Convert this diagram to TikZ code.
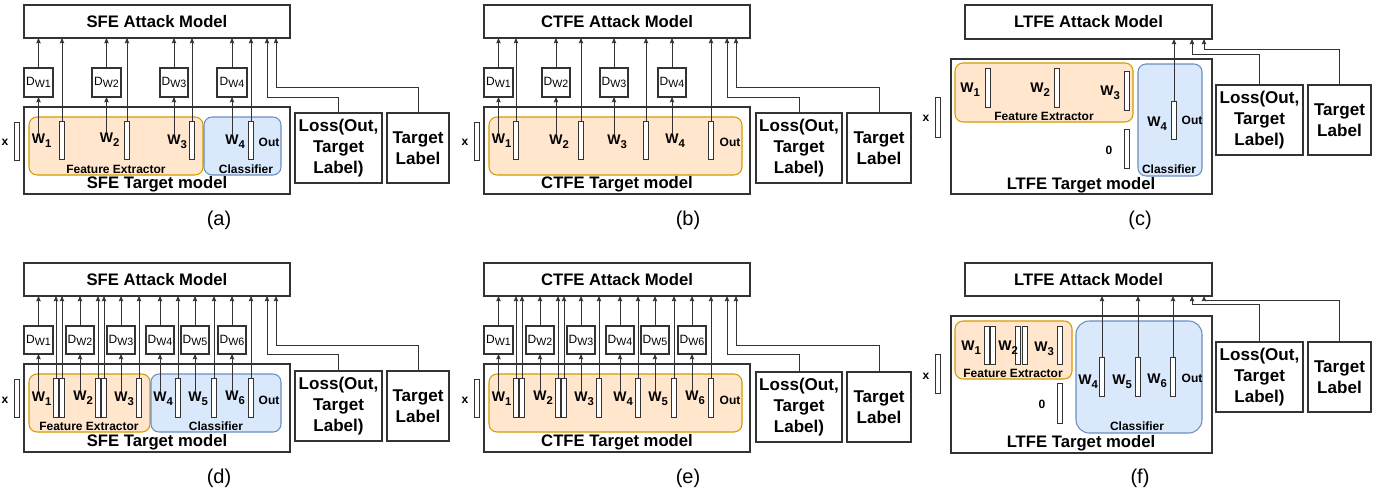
\documentclass[tikz,border=0pt]{standalone}
\usepackage{fontspec}
\setmainfont{Liberation Sans}
\usetikzlibrary{arrows.meta}
\definecolor{orf}{HTML}{FFE6CC}
\definecolor{ord}{HTML}{D79B00}
\definecolor{blf}{HTML}{DAE8FC}
\definecolor{bld}{HTML}{6C8EBF}
\definecolor{lnc}{HTML}{333333}
\tikzset{
 every node/.style={inner sep=0pt, outer sep=0pt},
 boxst/.style={draw=lnc, line width=0.8pt, fill=white},
 fest/.style={draw=ord, fill=orf, rounded corners=6pt, line width=0.8pt},
 clst/.style={draw=bld, fill=blf, rounded corners=6pt, line width=0.8pt},
 barst/.style={draw=lnc, fill=white, line width=0.7pt},
 ttl/.style={font=\fontsize{12.5}{15}\selectfont\bfseries},
 tgl/.style={ttl, anchor=base},
 big/.style={font=\fontsize{12.8}{15.75}\selectfont\bfseries, align=center},
 sm/.style={font=\fontsize{9}{10}\selectfont\bfseries},
 wlab/.style={font=\fontsize{10.5}{12}\selectfont\bfseries, anchor=north},
 captxt/.style={font=\fontsize{15}{18}\selectfont},
 dwst/.style={boxst, font=\fontsize{9}{10}\selectfont},
 arr/.style={draw=lnc, line width=0.75pt, -{Stealth[length=4pt,width=3.4pt,inset=0.6pt]}}
}
\newcommand\rbox[7]{\path ({((#2)+(#4))/2},{((#3)+(#5))/2}) node[#6, minimum width={((#4)-(#2))*0.75pt}, minimum height={((#5)-(#3))*0.75pt}] (#1) {#7};}
\newcommand\vbar[4]{\path ({#2},{((#3)+(#4))/2}) node[barst, minimum width=3.4pt, minimum height={((#4)-(#3))*0.75pt}] (#1) {};}
\newcommand\dwt[1]{D\raisebox{-1.5pt}{\fontsize{8}{9}\selectfont W#1}}
\newcommand\wl[4]{\node[wlab] (#1) at (#2,#3) {W\rlap{\raisebox{-3pt}{\fontsize{8.5}{9}\selectfont #4}}};}
\begin{document}
\begin{tikzpicture}[x=0.75pt,y=-0.75pt]
\useasboundingbox (0,0) rectangle (1395,496);
% ================= (a)
\rbox{atkA}{24}{5}{290}{38}{boxst,ttl}{SFE Attack Model}
\rbox{tgtA}{24}{107}{290}{194}{boxst}{}
\rbox{feA}{29}{117}{203}{175}{fest}{}
\rbox{clA}{204}{117}{281}{175}{clst}{}
\node[tgl] (tgtAl) at (157,188) {SFE Target model};
\node[sm] (feAl) at (116,169) {Feature Extractor};
\node[sm] (clAl) at (246,169) {Classifier};
\vbar{xA}{17}{122}{160}
\node[sm] (xAl) at (5,142) {x};
\vbar{a1}{62}{121}{159}
\vbar{a2}{127}{121}{159}
\vbar{a3}{192}{121}{159}
\vbar{a4}{251}{121}{159}
\node[sm] (outA) at (269,142) {Out};
\rbox{dA1}{24}{68}{53}{97}{dwst}{\dwt{1}}
\rbox{dA2}{92}{68}{121}{97}{dwst}{\dwt{2}}
\rbox{dA3}{160}{68}{188}{97}{dwst}{\dwt{3}}
\rbox{dA4}{217}{68}{247}{97}{dwst}{\dwt{4}}
\wl{wA1}{38.5}{134}{1}
\wl{wA2}{106.5}{133}{2}
\wl{wA3}{174}{135}{3}
\wl{wA4}{232}{135}{4}
\rbox{lossA}{295}{113}{382}{183}{boxst,big}{Loss(Out,\\Target\\Label)}
\rbox{tlA}{387}{113}{449}{183}{boxst,big}{Target\\Label}
\foreach \n in {1,...,4}{
 \draw[arr] (wA\n.north) -- (dA\n.south);
 \draw[arr] (dA\n.north) -- (dA\n.north |- atkA.south);
 \draw[arr] (a\n.north) -- (a\n.north |- atkA.south);}
\coordinate (kLA) at (267,97); \coordinate (kTA) at (276,87);
\draw[arr] (lossA.north) |- (kLA) -- (kLA |- atkA.south);
\draw[arr] (tlA.north) |- (kTA) -- (kTA |- atkA.south);
\node[captxt] (capA) at (219,220) {(a)};
% ================= (b)
\rbox{atkB}{484}{5}{750}{38}{boxst,ttl}{CTFE Attack Model}
\rbox{tgtB}{484}{107}{750}{194}{boxst}{}
\rbox{feB}{489}{117}{742}{175}{fest}{}
\node[tgl] (tgtBl) at (617,188) {CTFE Target model};
\vbar{xB}{477}{122}{160}
\node[sm] (xBl) at (465,142) {x};
\vbar{b1}{516}{121}{159}
\vbar{b2}{581}{121}{159}
\vbar{b3}{646}{121}{159}
\vbar{b4}{711}{121}{159}
\node[sm] (outB) at (730,142) {Out};
\rbox{dB1}{484}{68}{513}{97}{dwst}{\dwt{1}}
\rbox{dB2}{542}{68}{570}{97}{dwst}{\dwt{2}}
\rbox{dB3}{600}{68}{628}{97}{dwst}{\dwt{3}}
\rbox{dB4}{658}{68}{686}{97}{dwst}{\dwt{4}}
\wl{wB1}{498.5}{134}{1}
\wl{wB2}{556}{135}{2}
\wl{wB3}{614}{135}{3}
\wl{wB4}{672}{134}{4}
\rbox{lossB}{756}{113}{842}{183}{boxst,big}{Loss(Out,\\Target\\Label)}
\rbox{tlB}{847}{113}{911}{183}{boxst,big}{Target\\Label}
\foreach \n in {1,...,4}{
 \draw[arr] (wB\n.north) -- (dB\n.south);
 \draw[arr] (dB\n.north) -- (dB\n.north |- atkB.south);
 \draw[arr] (b\n.north) -- (b\n.north |- atkB.south);}
\coordinate (kLB) at (727,97); \coordinate (kTB) at (736,87);
\draw[arr] (lossB.north) |- (kLB) -- (kLB |- atkB.south);
\draw[arr] (tlB.north) |- (kTB) -- (kTB |- atkB.south);
\node[captxt] (capB) at (688,220) {(b)};
% ================= (c)
\rbox{atkC}{965}{5}{1212}{39}{boxst,ttl}{LTFE Attack Model}
\rbox{tgtC}{951}{59}{1212}{194}{boxst}{}
\rbox{feC}{955}{63}{1133}{122}{fest}{}
\rbox{clC}{1138}{64}{1202}{176}{clst}{}
\node[tgl] (tgtCl) at (1081,189) {LTFE Target model};
\node[sm] (feCl) at (1044,116) {Feature Extractor};
\node[sm] (clCl) at (1169,169) {Classifier};
\vbar{xC}{938}{97}{137}
\node[sm] (xCl) at (926,118) {x};
\vbar{c1}{988}{68}{107}
\vbar{c2}{1057}{68}{107}
\vbar{c3}{1127}{71}{110}
\vbar{c4}{1174}{101}{139}
\vbar{c0}{1127}{129}{168}
\wl{wC1}{967}{83}{1}
\wl{wC2}{1037}{83}{2}
\wl{wC3}{1107}{86}{3}
\wl{wC4}{1154}{117}{4}
\node[sm] (outC) at (1192,120) {Out};
\node[sm] (zC) at (1109,150) {0};
\rbox{lossC}{1216}{85}{1303}{155}{boxst,big}{Loss(Out,\\Target\\Label)}
\rbox{tlC}{1308}{85}{1371}{155}{boxst,big}{Target\\Label}
\draw[arr] (c4.north) -- (c4.north |- atkC.south);
\coordinate (kLC) at (1192,54); \coordinate (kTC) at (1204,49);
\draw[arr] (lossC.north) |- (kLC) -- (kLC |- atkC.south);
\draw[arr] (tlC.north) |- (kTC) -- (kTC |- atkC.south);
\node[captxt] (capC) at (1140,220) {(c)};
% ================= (d)
\rbox{atkD}{24}{263}{290}{296}{boxst,ttl}{SFE Attack Model}
\rbox{tgtD}{24}{364}{290}{452}{boxst}{}
\rbox{feD}{29}{374}{150}{432}{fest}{}
\rbox{clD}{151}{374}{281}{432}{clst}{}
\node[tgl] (tgtDl) at (157,446) {SFE Target model};
\node[sm] (feDl) at (89,426) {Feature Extractor};
\node[sm] (clDl) at (216,426) {Classifier};
\vbar{xD}{17}{379}{417}
\node[sm] (xDl) at (5,400) {x};
\vbar{d1}{56}{378}{417}
\vbar{d2}{62}{378}{417}
\vbar{d3}{98}{378}{417}
\vbar{d4}{104}{378}{417}
\vbar{d5}{139}{378}{417}
\vbar{d6}{178}{378}{417}
\vbar{d7}{214}{378}{417}
\vbar{d8}{251}{378}{417}
\node[sm] (outD) at (269,400) {Out};
\rbox{dD1}{24}{326}{53}{354}{dwst}{\dwt{1}}
\rbox{dD2}{66}{326}{94}{354}{dwst}{\dwt{2}}
\rbox{dD3}{107}{326}{135}{354}{dwst}{\dwt{3}}
\rbox{dD4}{146}{326}{174}{354}{dwst}{\dwt{4}}
\rbox{dD5}{181}{326}{209}{354}{dwst}{\dwt{5}}
\rbox{dD6}{218}{326}{246}{354}{dwst}{\dwt{6}}
\wl{wD1}{38.5}{392}{1}
\wl{wD2}{80}{391}{2}
\wl{wD3}{121}{392}{3}
\wl{wD4}{160}{392}{4}
\wl{wD5}{195}{392}{5}
\wl{wD6}{232}{391}{6}
\rbox{lossD}{295}{371}{382}{441}{boxst,big}{Loss(Out,\\Target\\Label)}
\rbox{tlD}{387}{371}{449}{441}{boxst,big}{Target\\Label}
\foreach \n in {1,...,6}{
 \draw[arr] (wD\n.north) -- (dD\n.south);
 \draw[arr] (dD\n.north) -- (dD\n.north |- atkD.south);}
\foreach \n in {1,...,8}{
 \draw[arr] (d\n.north) -- (d\n.north |- atkD.south);}
\coordinate (kLD) at (267,354); \coordinate (kTD) at (276,345);
\draw[arr] (lossD.north) |- (kLD) -- (kLD |- atkD.south);
\draw[arr] (tlD.north) |- (kTD) -- (kTD |- atkD.south);
\node[captxt] (capD) at (219,478) {(d)};
% ================= (e)
\rbox{atkE}{484}{263}{750}{296}{boxst,ttl}{CTFE Attack Model}
\rbox{tgtE}{484}{364}{750}{452}{boxst}{}
\rbox{feE}{489}{374}{742}{432}{fest}{}
\node[tgl] (tgtEl) at (617,446) {CTFE Target model};
\vbar{xE}{477}{379}{417}
\node[sm] (xEl) at (465,400) {x};
\vbar{e1}{516}{378}{417}
\vbar{e2}{522}{378}{417}
\vbar{e3}{558}{378}{417}
\vbar{e4}{564}{378}{417}
\vbar{e5}{599}{378}{417}
\vbar{e6}{638}{378}{417}
\vbar{e7}{674}{378}{417}
\vbar{e8}{711}{378}{417}
\node[sm] (outE) at (730,400) {Out};
\rbox{dE1}{484}{326}{513}{354}{dwst}{\dwt{1}}
\rbox{dE2}{526}{326}{554}{354}{dwst}{\dwt{2}}
\rbox{dE3}{567}{326}{595}{354}{dwst}{\dwt{3}}
\rbox{dE4}{606}{326}{634}{354}{dwst}{\dwt{4}}
\rbox{dE5}{641}{326}{669}{354}{dwst}{\dwt{5}}
\rbox{dE6}{678}{326}{706}{354}{dwst}{\dwt{6}}
\wl{wE1}{498.5}{392}{1}
\wl{wE2}{540}{391}{2}
\wl{wE3}{581}{392}{3}
\wl{wE4}{620}{392}{4}
\wl{wE5}{655}{392}{5}
\wl{wE6}{692}{391}{6}
\rbox{lossE}{756}{372}{842}{442}{boxst,big}{Loss(Out,\\Target\\Label)}
\rbox{tlE}{847}{372}{911}{442}{boxst,big}{Target\\Label}
\foreach \n in {1,...,6}{
 \draw[arr] (wE\n.north) -- (dE\n.south);
 \draw[arr] (dE\n.north) -- (dE\n.north |- atkE.south);}
\foreach \n in {1,...,8}{
 \draw[arr] (e\n.north) -- (e\n.north |- atkE.south);}
\coordinate (kLE) at (727,354); \coordinate (kTE) at (736,345);
\draw[arr] (lossE.north) |- (kLE) -- (kLE |- atkE.south);
\draw[arr] (tlE.north) |- (kTE) -- (kTE |- atkE.south);
\node[captxt] (capE) at (688,478) {(e)};
% ================= (f)
\rbox{atkF}{965}{263}{1212}{296}{boxst,ttl}{LTFE Attack Model}
\rbox{tgtF}{951}{316}{1212}{453}{boxst}{}
\rbox{feF}{955}{321}{1072}{379}{fest}{}
\rbox{clF}{1076}{321}{1202}{433}{clst,rounded corners=10pt}{}
\node[tgl] (tgtFl) at (1081,447) {LTFE Target model};
\node[sm] (feFl) at (1013,373) {Feature Extractor};
\node[sm] (clFl) at (1137,426) {Classifier};
\vbar{xF}{938}{354}{393}
\node[sm] (xFl) at (926,376) {x};
\vbar{f1}{987}{326}{364}
\vbar{f2}{993}{326}{364}
\vbar{f3}{1018}{326}{364}
\vbar{f4}{1025}{326}{364}
\vbar{f5}{1060}{326}{364}
\vbar{f0}{1060}{383}{423}
\vbar{g1}{1102}{357}{396}
\vbar{g2}{1138}{357}{396}
\vbar{g3}{1173}{357}{396}
\wl{wF1}{968}{341}{1}
\wl{wF2}{1005}{341}{2}
\wl{wF3}{1041}{342}{3}
\wl{wF4}{1085}{375}{4}
\wl{wF5}{1119}{375}{5}
\wl{wF6}{1154}{374}{6}
\node[sm] (outF) at (1192,378) {Out};
\node[sm] (zF) at (1042,404) {0};
\rbox{lossF}{1216}{342}{1303}{412}{boxst,big}{Loss(Out,\\Target\\Label)}
\rbox{tlF}{1308}{342}{1371}{412}{boxst,big}{Target\\Label}
\foreach \n in {1,2,3}{
 \draw[arr] (g\n.north) -- (g\n.north |- atkF.south);}
\coordinate (kLF) at (1192,304); \coordinate (kTF) at (1204,300);
\draw[arr] (lossF.north) |- (kLF) -- (kLF |- atkF.south);
\draw[arr] (tlF.north) |- (kTF) -- (kTF |- atkF.south);
\node[captxt] (capF) at (1140,478) {(f)};
\end{tikzpicture}
\end{document}
